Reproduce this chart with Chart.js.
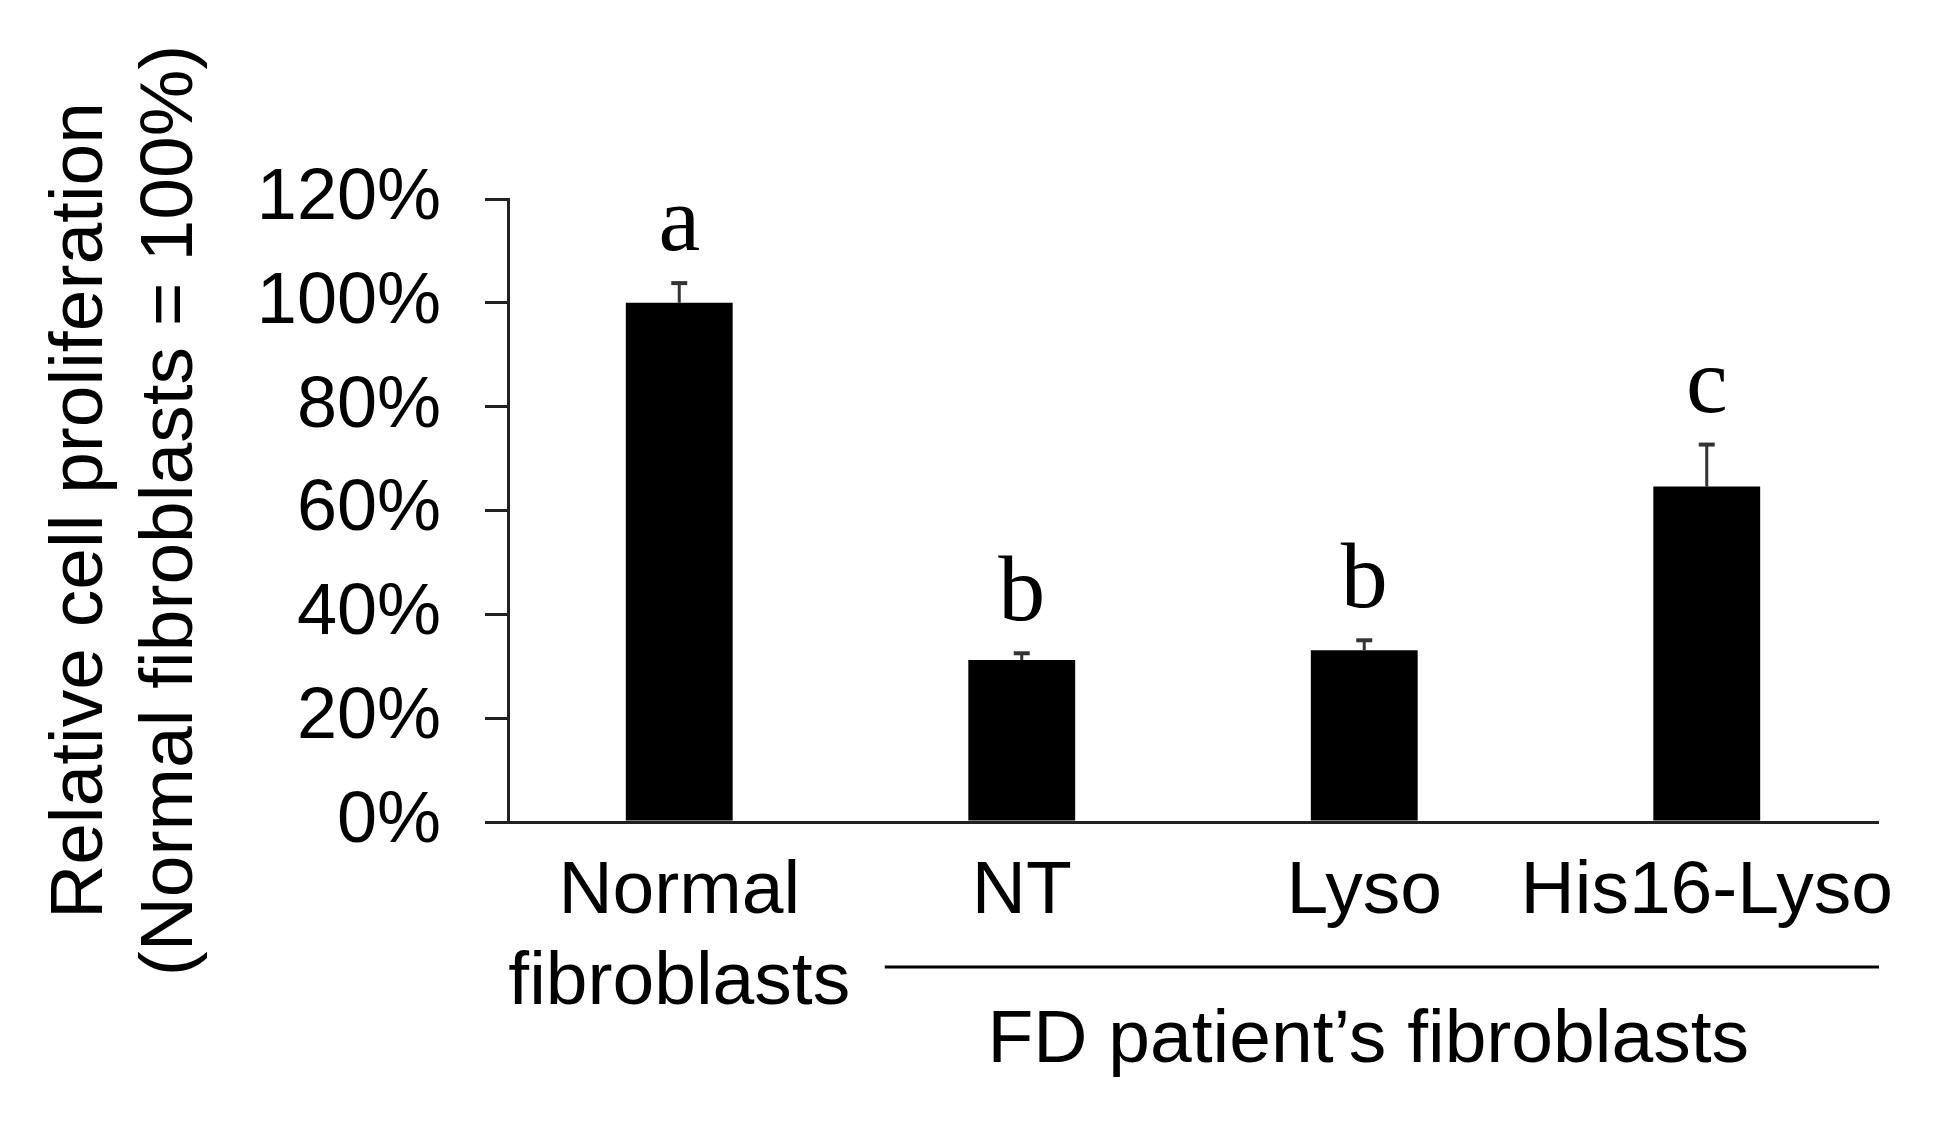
<!DOCTYPE html>
<html>
<head>
<meta charset="utf-8">
<script src="https://cdn.jsdelivr.net/npm/chart.js@4.4.1/dist/chart.umd.min.js"></script>
<style>
  html, body { margin: 0; padding: 0; background: #ffffff; }
  #wrap { width: 1941px; height: 1130px; }
</style>
</head>
<body>
<div id="wrap"><canvas id="c" width="1941" height="1130"></canvas></div>
<script>
// ---- data ----
const categories = [['Normal', 'fibroblasts'], 'NT', 'Lyso', 'His16-Lyso'];
const values = [100, 31.2, 33.1, 64.6];
const errors = [3.8, 1.3, 1.9, 8.1];
const letters = ['a', 'b', 'b', 'c'];
const yTicks = [0, 20, 40, 60, 80, 100, 120];
const yTitle = ['Relative cell proliferation', '(Normal fibroblasts = 100%)'];
const groupLabel = 'FD patient\u2019s fibroblasts';
const groupStart = 1; // first category index under the group line
const groupEnd = 3;   // last category index under the group line

const SANS = '"Liberation Sans", Arial, sans-serif';
const SERIF = '"Liberation Serif", "Times New Roman", serif';
const AXIS = '#222222';

const annotate = {
  id: 'annotate',
  afterDatasetsDraw(chart) {
    const ctx = chart.ctx;
    const x = chart.scales.x, y = chart.scales.y;
    ctx.save();
    values.forEach((v, i) => {
      const cx = x.getPixelForValue(i);
      const yTop = y.getPixelForValue(v);
      const yErr = y.getPixelForValue(v + errors[i]);
      ctx.strokeStyle = '#333333';
      ctx.lineWidth = 3;
      ctx.beginPath();
      ctx.moveTo(cx, yTop);
      ctx.lineTo(cx, yErr);
      ctx.stroke();
      ctx.lineWidth = 4;
      ctx.beginPath();
      ctx.moveTo(cx - 8, yErr);
      ctx.lineTo(cx + 8, yErr);
      ctx.stroke();
      ctx.fillStyle = '#000000';
      ctx.font = '94px ' + SERIF;
      ctx.textAlign = 'center';
      ctx.textBaseline = 'alphabetic';
      ctx.fillText(letters[i], cx, yErr - 33);
    });
    ctx.restore();
  },
  afterDraw(chart) {
    const ctx = chart.ctx;
    const x = chart.scales.x;
    const step = x.getPixelForValue(1) - x.getPixelForValue(0);
    const x1 = x.getPixelForValue(groupStart) - 0.40 * step;
    const x2 = chart.chartArea.right + 1;
    const lineY = chart.chartArea.bottom + 145;
    ctx.save();
    ctx.strokeStyle = '#000000';
    ctx.lineWidth = 3;
    ctx.beginPath();
    ctx.moveTo(x1, lineY);
    ctx.lineTo(x2, lineY);
    ctx.stroke();
    ctx.fillStyle = '#000000';
    ctx.font = '75px ' + SANS;
    ctx.textAlign = 'center';
    ctx.textBaseline = 'alphabetic';
    const mid = (x.getPixelForValue(groupStart) + x.getPixelForValue(groupEnd)) / 2 + 4;
    ctx.fillText(groupLabel, mid, chart.chartArea.bottom + 240);
    ctx.restore();
  }
};

new Chart(document.getElementById('c'), {
  type: 'bar',
  data: {
    labels: categories,
    datasets: [{
      data: values,
      backgroundColor: '#000000',
      borderWidth: 0,
      barPercentage: 0.312,
      categoryPercentage: 1.0
    }]
  },
  options: {
    responsive: false,
    devicePixelRatio: 1,
    animation: false,
    layout: { padding: { top: 199, right: 63, bottom: 0, left: 0 } },
    plugins: { legend: { display: false }, tooltip: { enabled: false } },
    scales: {
      x: {
        afterFit(s) { s.height = 308; },
        grid: { display: true, drawOnChartArea: false, drawTicks: false },
        border: { display: true, color: AXIS, width: 3 },
        ticks: {
          color: '#000000',
          font: { family: SANS, size: 75, lineHeight: 1.21 },
          padding: 25,
          maxRotation: 0,
          autoSkip: false
        }
      },
      y: {
        min: 0,
        max: 120,
        afterFit(s) { s.width = 508; },
        afterBuildTicks(s) { s.ticks = yTicks.map(v => ({ value: v })); },
        grid: { display: true, drawOnChartArea: false, drawTicks: true, tickLength: 23, color: AXIS, lineWidth: 3 },
        border: { display: true, color: AXIS, width: 3 },
        ticks: {
          color: '#000000',
          font: { family: SANS, size: 72 },
          padding: 44,
          callback: v => v + '%'
        },
        title: {
          display: true,
          text: yTitle,
          color: '#000000',
          font: { family: SANS, size: 75, lineHeight: 1.2 },
          padding: { top: 36, bottom: 0 }
        }
      }
    }
  },
  plugins: [annotate]
});
</script>
</body>
</html>
